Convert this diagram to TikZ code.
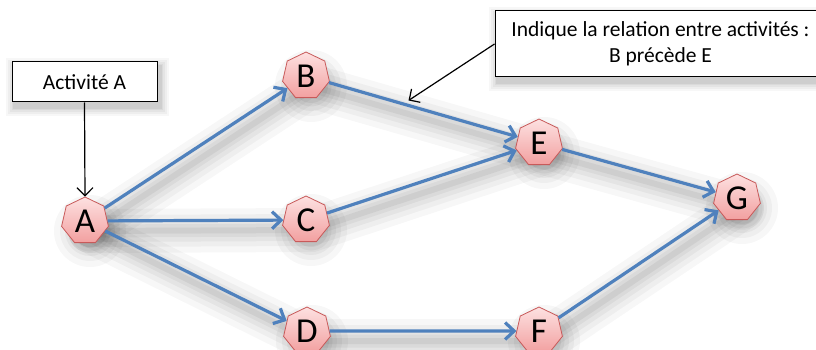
\documentclass[tikz,border=0pt]{standalone}
\usepackage{fontspec}
\setmainfont{Carlito}
\usetikzlibrary{arrows.meta,shapes.geometric,calc,backgrounds}
\definecolor{edgeblue}{RGB}{79,129,189}
\definecolor{nodeborder}{RGB}{200,90,90}
\definecolor{nodetop}{RGB}{253,225,225}
\definecolor{nodebot}{RGB}{242,160,160}
\begin{document}
\begin{tikzpicture}[x=1pt,y=-1pt,
  act/.style={regular polygon, regular polygon sides=7, minimum size=48pt, inner sep=0pt,
    draw=nodeborder, line width=0.8pt, top color=nodetop, bottom color=nodebot,
    font=\fontsize{35}{35}\selectfont},
  link/.style={draw=edgeblue, line width=3.2pt, -{Straight Barb[length=9pt,width=17pt,line width=3.2pt]}},
  callout/.style={draw=black, line width=1.2pt, -{Straight Barb[length=8pt,width=16pt,line width=1.2pt]}},
  infobox/.style={draw=black, line width=1pt, fill=white, inner sep=0pt, align=center,
    font=\fontsize{21.5}{26}\selectfont},
  shadowline/.style={draw=black, line cap=round, transform canvas={xshift=5pt,yshift=-10pt}},
]
\useasboundingbox (0,0) rectangle (816,350);
\clip (0,0) rectangle (816,350);

\node[act] (A) at (85,221) {A};
\node[act] (B) at (306,76) {B};
\node[act] (C) at (306,220) {C};
\node[act] (D) at (307,331) {D};
\node[act] (E) at (539,143) {E};
\node[act] (F) at (539,331) {F};
\node[act] (G) at (737,198) {G};

\node[infobox, minimum width=145pt, minimum height=40pt] (boxA) at (84.5,82) {Activité A};
\node[infobox, minimum width=331pt, minimum height=66pt] (boxB) at (660.5,44)
  {Indique la relation entre activités :\\B précède E};

\begin{scope}[on background layer]
  \fill[white] (0,0) rectangle (816,350);
  \foreach \w/\o in {44/0.03,32/0.035,22/0.04,13/0.045,6/0.05}{
    \draw[shadowline, line width=\w pt, opacity=\o] (A.center) -- (B.center) -- (E.center) -- (G.center);
    \draw[shadowline, line width=\w pt, opacity=\o] (A.center) -- (C.center) -- (E.center);
    \draw[shadowline, line width=\w pt, opacity=\o] (A.center) -- (D.center) -- (F.center) -- (G.center);
    \foreach \n in {A,B,C,D,E,F,G}{
      \fill[black, opacity=\o, transform canvas={xshift=5pt,yshift=-10pt}] (\n.center) circle[radius=14+\w/2];
    }
    \fill[black, opacity=\o, transform canvas={xshift=3pt,yshift=-5pt}]
      ($(boxA.south west)+(-\w/5,\w/5)$) rectangle ($(boxA.north east)+(\w/5,-\w/5)$);
    \fill[black, opacity=\o, transform canvas={xshift=3pt,yshift=-5pt}]
      ($(boxB.south west)+(-\w/5,\w/5)$) rectangle ($(boxB.north east)+(\w/5,-\w/5)$);
  }
\end{scope}

\draw[link] (A) -- (B);
\draw[link] (A) -- (C);
\draw[link] (A) -- (D);
\draw[link] (B) -- (E);
\draw[link] (C) -- (E);
\draw[link] (D) -- (F);
\draw[link] (E) -- (G);
\draw[link] (F) -- (G);

\coordinate (p) at ($(B)!0.44!(E)+(0,-5)$);
\draw[callout] (boxA.south) -- (A.north);
\draw[callout] (boxB.west) -- (p);
\end{tikzpicture}
\end{document}
